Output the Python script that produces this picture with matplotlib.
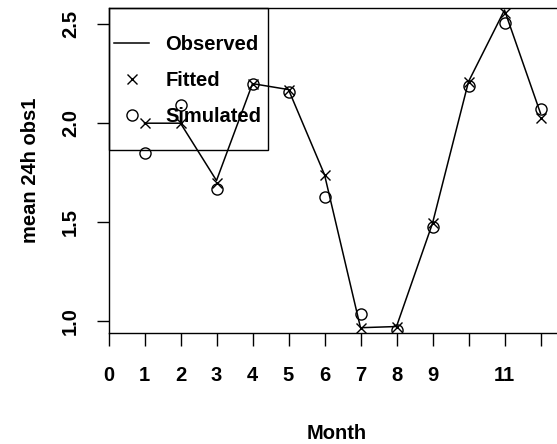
import matplotlib
matplotlib.use("Agg")
import matplotlib.pyplot as plt
from matplotlib.lines import Line2D
from matplotlib.patches import Rectangle

# Monthly means of the 24h observation series
months = [1, 2, 3, 4, 5, 6, 7, 8, 9, 10, 11, 12]
observed = [2.00, 2.00, 1.71, 2.20, 2.17, 1.74, 0.966, 0.972, 1.494, 2.21, 2.572, 2.05]
fitted = [2.00, 2.00, 1.70, 2.20, 2.17, 1.738, 0.965, 0.970, 1.494, 2.21, 2.559, 2.025]
simulated = [1.851, 2.092, 1.667, 2.198, 2.159, 1.628, 1.034, 0.954, 1.477, 2.188, 2.505, 2.07]

x_ticks = [0, 1, 2, 3, 4, 5, 6, 7, 8, 9, 10, 11, 12]
x_tick_labels = ["0", "1", "2", "3", "4", "5", "6", "7", "8", "9", "", "11", ""]
y_ticks = [1.0, 1.5, 2.0, 2.5]
y_tick_labels = ["1.0", "1.5", "2.0", "2.5"]

plt.rcParams["font.family"] = ["Liberation Sans", "DejaVu Sans"]
plt.rcParams["font.weight"] = "bold"
plt.rcParams["axes.labelweight"] = "bold"
FS = 14.5

W, H = 557, 444
fig = plt.figure(figsize=(W / 100, H / 100), dpi=100)
left, right, top, bottom = 108.5, 565, 8, 333
ax = fig.add_axes([left / W, (H - bottom) / H, (right - left) / W, (bottom - top) / H])

ax.plot(months, observed, color="black", lw=1.1)
ax.plot(months, fitted, linestyle="none", marker="x", ms=7, mew=1.0, color="black")
ax.plot(months, simulated, linestyle="none", marker="o", ms=8, mew=1.0,
        mfc="none", mec="black")

ax.set_xlim(0, (right - left) / 36.0)
ax.set_ylim(0.9393, 2.5824)

ax.set_xticks(x_ticks)
ax.set_xticklabels(x_tick_labels)
ax.set_yticks(y_ticks)
ax.set_yticklabels(y_tick_labels, rotation=90, va="center")

ax.tick_params(axis="both", direction="out", length=9, width=1.0,
               labelsize=FS, color="black")
ax.tick_params(axis="x", pad=14.5)
ax.tick_params(axis="y", pad=11.5)

for side in ("left", "bottom", "top"):
    ax.spines[side].set_linewidth(1.0)
    ax.spines[side].set_color("black")
ax.spines["right"].set_visible(False)

ax.set_xlabel("Month", fontsize=FS, labelpad=28.5)
ax.set_ylabel("mean 24h obs1", fontsize=FS, labelpad=15)

# Legend box in the top-left corner
box_w = (268 - left) / (right - left)
box_h = (150 - top) / (bottom - top)
ax.add_patch(Rectangle((0, 1 - box_h), box_w, box_h, transform=ax.transAxes,
                       fill=False, edgecolor="black", lw=1.0, clip_on=False))

handles = [
    Line2D([], [], color="black", lw=1.1),
    Line2D([], [], linestyle="none", marker="x", ms=7, mew=1.0, color="black"),
    Line2D([], [], linestyle="none", marker="o", ms=8, mew=1.0, mfc="none", mec="black"),
]
ax.legend(handles, ["Observed", "Fitted", "Simulated"], loc="center left",
          bbox_to_anchor=((114 - left) / (right - left), (bottom - 80.5) / (bottom - top)),
          frameon=False, fontsize=FS, borderpad=0, borderaxespad=0,
          handlelength=1.75, handletextpad=0.8, labelspacing=0.83)

fig.savefig("out.png", dpi=100)
